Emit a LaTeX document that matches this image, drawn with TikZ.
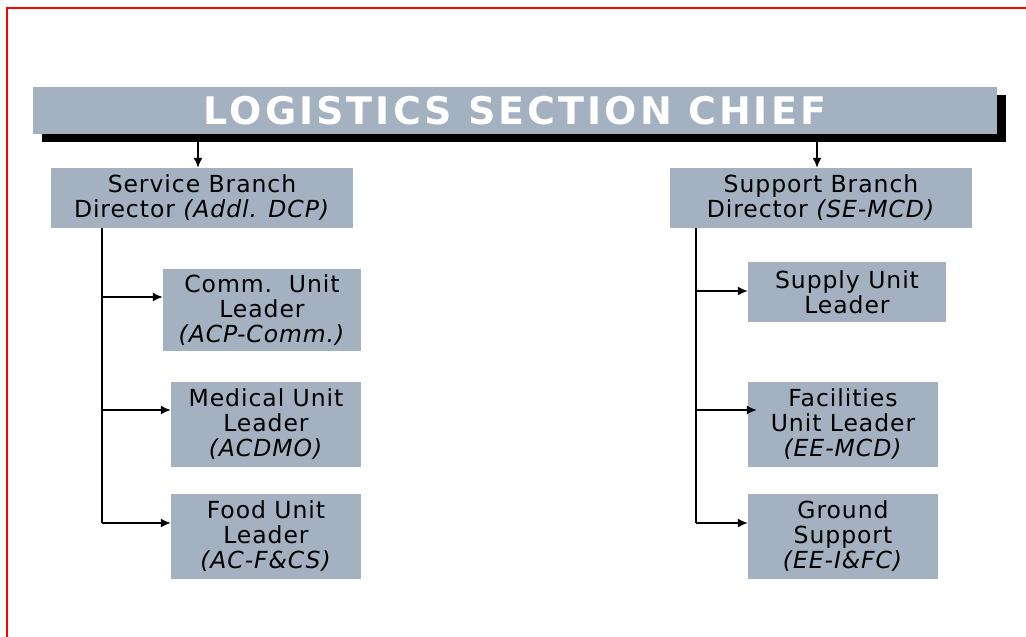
\documentclass[tikz,border=0pt]{standalone}
\usepackage{fontspec}
\usetikzlibrary{arrows.meta}
\setmainfont{DejaVu Sans}[LetterSpace=4]
\newfontfamily\titlefont{DejaVu Sans}[LetterSpace=8]
\definecolor{boxfill}{RGB}{163,177,192}
\begin{document}
\begin{tikzpicture}[x=1pt,y=-1pt,
  unitbox/.style={fill=boxfill, inner sep=0pt, align=center, font=\fontsize{23.5}{25}\selectfont, text=black},
  link/.style={line width=1.6pt, black},
  arr/.style={link, -{Latex[length=10pt,width=9pt]}}]
\useasboundingbox (0,0) rectangle (1026,637);
\draw[red, line width=2pt] (7,8) rectangle (1060,680);
% title shadow and bar
\fill[black] (42,95) rectangle (1006,142);
\node[fill=boxfill, minimum width=964pt, minimum height=47pt, inner sep=0pt,
  text=white, font=\titlefont\bfseries\fontsize{38}{40}\selectfont] (title) at (515,110.5) {LOGISTICS SECTION CHIEF};
% branches
\node[unitbox, minimum width=302pt, minimum height=60pt] (sb) at (202,198) {Service Branch\\Director \textit{(Addl. DCP)}};
\node[unitbox, minimum width=302pt, minimum height=60pt] (spb) at (821,198) {Support Branch\\Director \textit{(SE-MCD)}};
% service units
\node[unitbox, minimum width=198pt, minimum height=82pt] (comm) at (262,310) {Comm.\ \ Unit\\Leader\\\textit{(ACP-Comm.)}};
\node[unitbox, minimum width=190pt, minimum height=85pt] (med) at (266,424.5) {Medical Unit\\Leader\\\textit{(ACDMO)}};
\node[unitbox, minimum width=190pt, minimum height=85pt] (food) at (266,536.5) {Food Unit\\Leader\\\textit{(AC-F\&CS)}};
% support units
\node[unitbox, minimum width=198pt, minimum height=60pt] (supply) at (847,292) {Supply Unit\\Leader};
\node[unitbox, minimum width=190pt, minimum height=85pt] (fac) at (843,424.5) {Facilities\\Unit Leader\\\textit{(EE-MCD)}};
\node[unitbox, minimum width=190pt, minimum height=85pt] (gnd) at (843,536.5) {Ground\\Support\\\textit{(EE-I\&FC)}};
% connectors from title
\coordinate (t1) at (198,142);
\coordinate (t2) at (817,142);
\draw[arr] (t1) -- (t1 |- sb.north);
\draw[arr] (t2) -- (t2 |- spb.north);
% service trunk
\coordinate (ls) at (102,228);
\coordinate (la) at (102,297);
\coordinate (lb) at (102,410);
\coordinate (lc) at (102,523);
\draw[link] (ls) -- (lc);
\draw[arr] (la) -- (la -| comm.west);
\draw[arr] (lb) -- (lb -| med.west);
\draw[arr] (lc) -- (lc -| food.west);
% support trunk
\coordinate (rs) at (696,228);
\coordinate (ra) at (696,291);
\coordinate (rb) at (696,410);
\coordinate (rc) at (696,523);
\draw[link] (rs) -- (rc);
\draw[arr] (ra) -- (ra -| supply.west);
\draw[arr] (rb) -- ([xshift=9pt]rb -| fac.west);
\draw[arr] (rc) -- (rc -| gnd.west);
\end{tikzpicture}
\end{document}
